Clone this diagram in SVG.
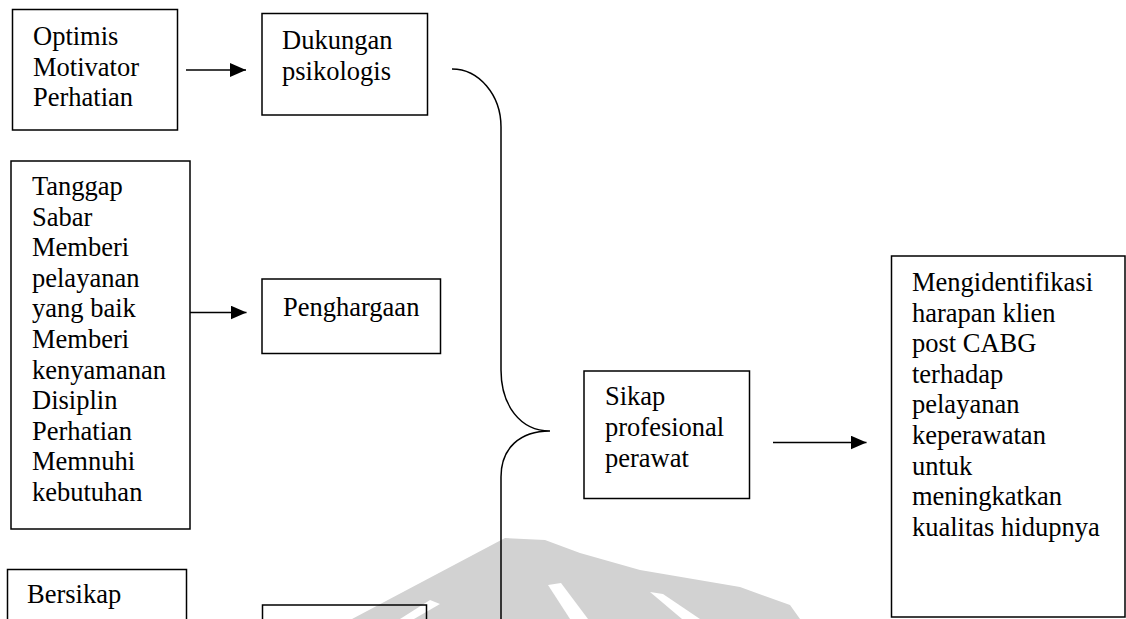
<svg xmlns="http://www.w3.org/2000/svg" width="1126" height="619" viewBox="0 0 1126 619">
<style>
.box{fill:none;stroke:#000;stroke-width:1.5}
text{font-family:'Liberation Serif',serif;font-size:26.5px;fill:#000}
.ln{fill:none;stroke:#000;stroke-width:1.5}
.wm{fill:#d2d2d2;stroke:none}
</style>
<defs>
<marker id="ah" markerUnits="userSpaceOnUse" markerWidth="17" markerHeight="15" refX="16" refY="7" orient="auto">
<path d="M0,0 L16,7 L0,14 Z" fill="#000"/>
</marker>
</defs>
<rect width="1126" height="619" fill="#fff"/>
<g id="watermark">
<path class="wm" d="M352,619 L505,538 L545,540 L580,553 L640,570 L740,587 L790,605 L800,619 Z"/>
<path d="M548,585 L561,583 L588,619 L570,619 Z" fill="#fff"/>
<path d="M650,592 L663,594 L700,619 L682,619 Z" fill="#fff"/>
<path d="M400,619 L430,600 L440,604 L414,619 Z" fill="#fff"/>
</g>
<g id="connectors">
<line class="ln" x1="186" y1="70" x2="246" y2="70" marker-end="url(#ah)"/>
<line class="ln" x1="190" y1="312.5" x2="246.5" y2="312.5" marker-end="url(#ah)"/>
<line class="ln" x1="773" y1="442.5" x2="866.5" y2="442.5" marker-end="url(#ah)"/>
<path class="ln" d="M452,69 C479,69 501,95 501,127 L501,370 C501,405 520,431 550,431 C520,431 501,448 501,477 L501,619"/>
</g>
<g font-family="Liberation Serif, serif" font-size="26.5">
<g id="n-optimis">
<rect class="box" x="12.5" y="9.5" width="165" height="120.5"/>
<text x="33" y="45">Optimis</text>
<text x="33" y="75.5">Motivator</text>
<text x="33" y="106">Perhatian</text>
</g>
<g id="n-dukungan">
<rect class="box" x="262" y="13.5" width="165.5" height="101.5"/>
<text x="282" y="49">Dukungan</text>
<text x="282" y="80">psikologis</text>
</g>
<g id="n-tanggap">
<rect class="box" x="11" y="161" width="179" height="368"/>
<text x="32" y="195">Tanggap</text>
<text x="32" y="225.6">Sabar</text>
<text x="32" y="256.2">Memberi</text>
<text x="32" y="286.8">pelayanan</text>
<text x="32" y="317.4">yang baik</text>
<text x="32" y="348">Memberi</text>
<text x="32" y="378.6">kenyamanan</text>
<text x="32" y="409.2">Disiplin</text>
<text x="32" y="439.8">Perhatian</text>
<text x="32" y="470.4">Memnuhi</text>
<text x="32" y="501">kebutuhan</text>
</g>
<g id="n-penghargaan">
<rect class="box" x="262" y="279" width="178.5" height="74.5"/>
<text x="283" y="316">Penghargaan</text>
</g>
<g id="n-sikap">
<rect class="box" x="584" y="371" width="165.5" height="127.5"/>
<text x="605" y="405">Sikap</text>
<text x="605" y="436">profesional</text>
<text x="605" y="467">perawat</text>
</g>
<g id="n-mengidentifikasi">
<rect class="box" x="891.5" y="256" width="233.5" height="361"/>
<text x="912" y="291">Mengidentifikasi</text>
<text x="912" y="321.6">harapan klien</text>
<text x="912" y="352.2">post CABG</text>
<text x="912" y="382.8">terhadap</text>
<text x="912" y="413.4">pelayanan</text>
<text x="912" y="444">keperawatan</text>
<text x="912" y="474.6">untuk</text>
<text x="912" y="505.2">meningkatkan</text>
<text x="912" y="535.8">kualitas hidupnya</text>
</g>
<g id="n-bersikap">
<rect class="box" x="7.5" y="569.5" width="179" height="60"/>
<text x="27" y="603">Bersikap</text>
</g>
<g id="n-bottom">
<rect class="box" x="262.5" y="605" width="164" height="30"/>
</g>
</g>
</svg>
